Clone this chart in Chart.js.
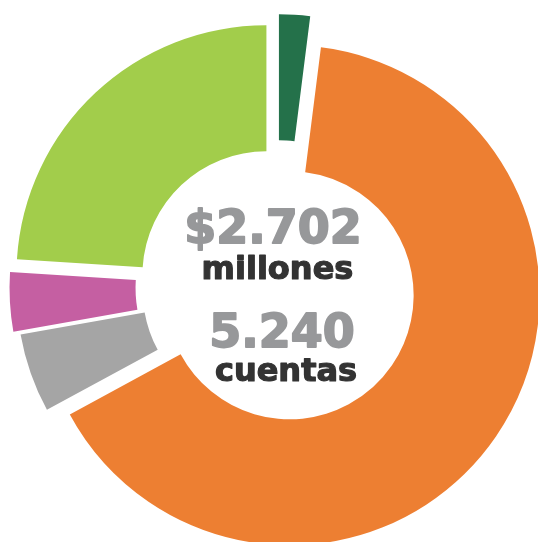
<!DOCTYPE html>
<html lang="es">
<head>
<meta charset="utf-8">
<title>Cartera</title>
<script src="https://cdn.jsdelivr.net/npm/chart.js@4.4.1/dist/chart.umd.min.js"></script>
<style>
  html, body { margin: 0; padding: 0; background: #fff; overflow: hidden; }
  #wrap { position: relative; width: 538px; height: 542px; }
</style>
</head>
<body>
<div id="wrap"><canvas id="myChart"></canvas></div>
<script>
// Datos del gráfico (millones)
var categorias = ['Segmento 1', 'Segmento 2', 'Segmento 3', 'Segmento 4', 'Segmento 5'];
var montos = [54, 1759, 138, 103, 648];
var totalMontos = '$2.702';
var totalCuentas = '5.240';

// Estilo
var colores = ['#24714a', '#ed7f32', '#a5a5a5', '#c55fa2', '#a2cd4b'];
var separacion = [22.7, 14.7, 11.4, 18, 16.2]; // px que se separa cada porción

// Separa cada porción del centro siguiendo su ángulo medio
var separar = {
  id: 'separar',
  beforeDatasetsDraw: function (chart) {
    var area = chart.chartArea;
    var cx = (area.left + area.right) / 2;
    var cy = (area.top + area.bottom) / 2;
    chart.getDatasetMeta(0).data.forEach(function (arc, i) {
      var mitad = (arc.startAngle + arc.endAngle) / 2;
      arc.x = cx + Math.cos(mitad) * separacion[i];
      arc.y = cy + Math.sin(mitad) * separacion[i];
    });
  }
};

// Texto del centro (el trazo engrosa la letra)
var lineas = [
  { texto: totalMontos, dx: -4.5, dy: -44, font: 'bold 46px "DejaVu Sans"', color: '#97989a', trazo: 1.8 },
  { texto: 'millones', dx: 0, dy: -8, font: 'bold 32px "DejaVu Sans"', color: '#333333', trazo: 1.2 },
  { texto: totalCuentas, dx: 4.5, dy: 60, font: 'bold 46px "DejaVu Sans"', color: '#97989a', trazo: 1.8 },
  { texto: 'cuentas', dx: 8.5, dy: 94, font: 'bold 32px "DejaVu Sans"', color: '#333333', trazo: 1.2 }
];

var textoCentro = {
  id: 'textoCentro',
  afterDraw: function (chart) {
    var ctx = chart.ctx;
    var area = chart.chartArea;
    var cx = (area.left + area.right) / 2;
    var cy = (area.top + area.bottom) / 2;
    ctx.save();
    ctx.textAlign = 'center';
    ctx.textBaseline = 'alphabetic';
    ctx.lineJoin = 'round';
    lineas.forEach(function (l) {
      ctx.font = l.font;
      ctx.fillStyle = l.color;
      ctx.strokeStyle = l.color;
      ctx.lineWidth = l.trazo;
      ctx.fillText(l.texto, cx + l.dx, cy + l.dy);
      ctx.strokeText(l.texto, cx + l.dx, cy + l.dy);
    });
    ctx.restore();
  }
};

var data = {
  labels: categorias,
  datasets: [{
    data: montos,
    backgroundColor: colores,
    borderWidth: 0,
    clip: false
  }]
};

var options = {
  responsive: true,
  maintainAspectRatio: false,
  animation: false,
  events: [],
  radius: 250,
  cutout: '49.6%',
  layout: { padding: { left: 17, top: 32, right: 0, bottom: 0 } },
  plugins: {
    legend: { display: false },
    tooltip: { enabled: false }
  }
};

var ctx = document.getElementById('myChart').getContext('2d');
var myChart = new Chart(ctx, {
  type: 'doughnut',
  data: data,
  options: options,
  plugins: [separar, textoCentro]
});
</script>
</body>
</html>
